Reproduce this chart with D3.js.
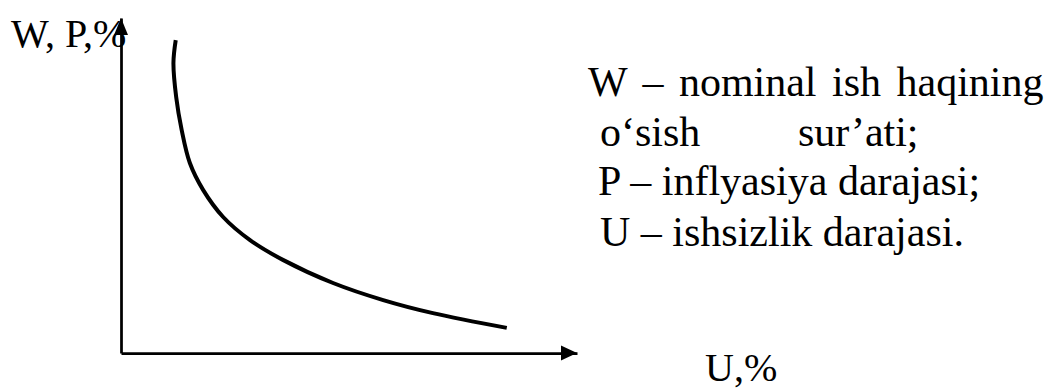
<!DOCTYPE html>
<html>
<head>
<meta charset="utf-8">
<script src="https://cdn.jsdelivr.net/npm/d3@7"></script>
<style>
  body { margin: 0; background: #fff; }
  text { font-family: "Liberation Serif", "Times New Roman", serif; fill: #000; }
</style>
</head>
<body>
<div id="canvas"></div>
<script>
// Phillips curve: unemployment U (%) vs wage growth / inflation W, P (%)
const unemployment = [12.0, 11.5, 12.1, 13.3, 15.1, 18.0, 22.4, 28.3, 35.5, 46.5, 57.5, 68.4, 84.6];
const wageInflation = [93.4, 86.6, 76.4, 66.6, 56.7, 48.7, 40.6, 33.7, 27.8, 20.9, 15.8, 11.9, 7.5];

const yLabel = "W, P,%";
const xLabel = "U,%";
const legendLines = [
    ["W – nominal ish haqining"],
    ["o‘sish", "sur’ati;"],
    ["P – inflyasiya darajasi;"],
    ["U – ishsizlik darajasi."]
];

const width = 1050;
const height = 391;

const svg = d3.select("#canvas").append("svg")
    .attr("width", width)
    .attr("height", height);

const x = d3.scaleLinear().domain([0, 100]).range([121, 577]);
const y = d3.scaleLinear().domain([0, 100]).range([353, 18]);

// axes (no ticks, just the lines with arrows)
svg.append("g")
    .attr("transform", `translate(0, ${y(0)})`)
    .call(d3.axisBottom(x).tickValues([]).tickSizeOuter(0))
    .select(".domain")
    .attr("stroke", "#000")
    .attr("stroke-width", 2.75);

svg.append("g")
    .attr("transform", `translate(${x(0)}, 0)`)
    .call(d3.axisLeft(y).tickValues([]).tickSizeOuter(0))
    .select(".domain")
    .attr("stroke", "#000")
    .attr("stroke-width", 2.75);

// arrow heads
const xe = x(100), ye = y(0);
svg.append("path")
    .attr("d", `M${xe},${ye} L${xe - 16},${ye - 7.5} L${xe - 16},${ye + 7.5} Z`)
    .attr("fill", "#000");

const xt = x(0), yt = y(100);
svg.append("path")
    .attr("d", `M${xt},${yt} L${xt - 7},${yt + 17} L${xt + 7},${yt + 17} Z`)
    .attr("fill", "#000");

// curve
const points = unemployment.map((u, i) => [u, wageInflation[i]]);
const line = d3.line()
    .x(d => x(d[0]))
    .y(d => y(d[1]))
    .curve(d3.curveCatmullRom.alpha(0.5));

svg.append("path")
    .datum(points)
    .attr("d", line)
    .attr("fill", "none")
    .attr("stroke", "#000")
    .attr("stroke-width", 4);

// axis labels
svg.append("text")
    .attr("x", 11)
    .attr("y", 47)
    .style("font-size", "40px")
    .text(yLabel);

svg.append("text")
    .attr("x", 705)
    .attr("y", 381)
    .style("font-size", "40px")
    .text(xLabel);

// legend
const legendX = [588, 600, 598, 600];
const legendY = [96, 146, 195, 246];
const legend = svg.append("g").style("font-size", "42px");

legendLines.forEach((parts, i) => {
    const t = legend.append("text")
        .attr("x", legendX[i])
        .attr("y", legendY[i]);
    if (i === 0) t.style("word-spacing", "5px");
    if (parts.length === 1) {
        t.text(parts[0]);
    } else {
        t.append("tspan").text(parts[0]);
        t.append("tspan").attr("x", 798).text(parts[1]);
    }
});
</script>
</body>
</html>
